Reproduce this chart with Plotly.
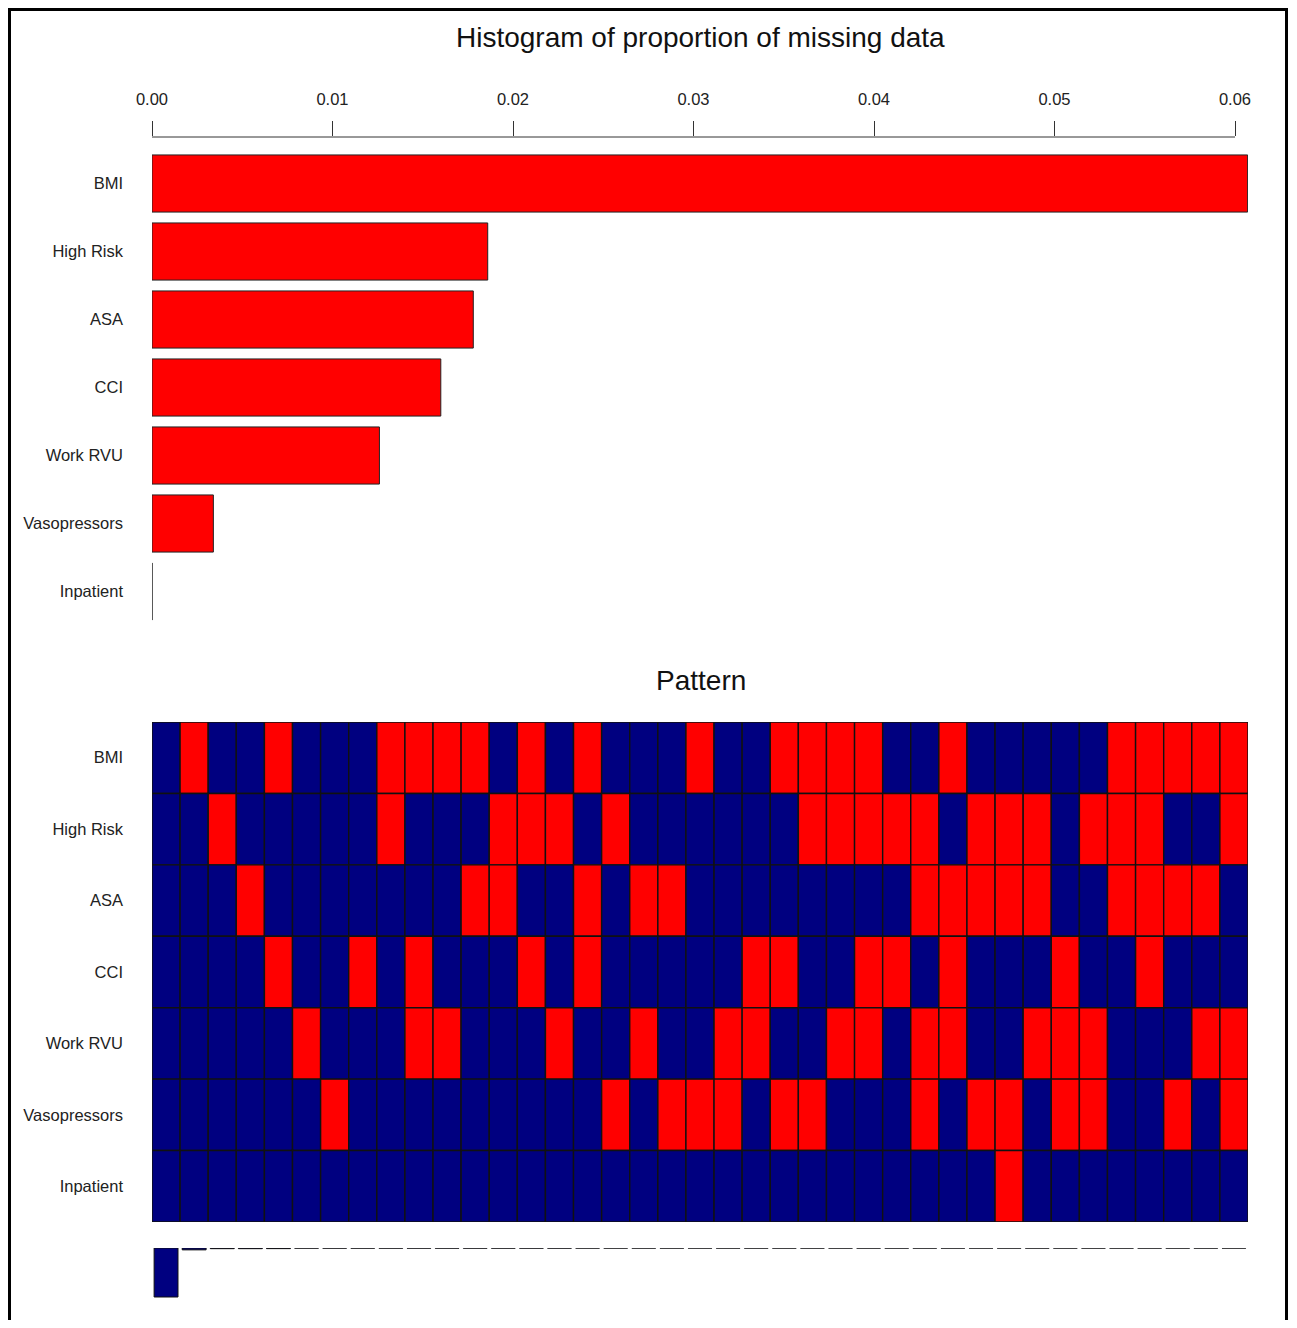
import plotly.graph_objects as go

# ---------------- data ----------------
variables = ["BMI", "High Risk", "ASA", "CCI", "Work RVU", "Vasopressors", "Inpatient"]
prop_missing = [0.0607, 0.0186, 0.0178, 0.0160, 0.0126, 0.0034, 0.0]

tick_vals = [0.00, 0.01, 0.02, 0.03, 0.04, 0.05, 0.06]
tick_text = ["0.00", "0.01", "0.02", "0.03", "0.04", "0.05", "0.06"]

# missingness pattern: one row per variable, one column per pattern (1 = missing)
pat_bmi      = [0,1,0,0,1,0,0,0,1,1,1,1,0,1,0,1,0,0,0,1,0,0,1,1,1,1,0,0,1,0,0,0,0,0,1,1,1,1,1]
pat_highrisk = [0,0,1,0,0,0,0,0,1,0,0,0,1,1,1,0,1,0,0,0,0,0,0,1,1,1,1,1,0,1,1,1,0,1,1,1,0,0,1]
pat_asa      = [0,0,0,1,0,0,0,0,0,0,0,1,1,0,0,1,0,1,1,0,0,0,0,0,0,0,0,1,1,1,1,1,0,0,1,1,1,1,0]
pat_cci      = [0,0,0,0,1,0,0,1,0,1,0,0,0,1,0,1,0,0,0,0,0,1,1,0,0,1,1,0,1,0,0,0,1,0,0,1,0,0,0]
pat_workrvu  = [0,0,0,0,0,1,0,0,0,1,1,0,0,0,1,0,0,1,0,0,1,1,0,0,1,1,0,1,1,0,0,1,1,1,0,0,0,1,1]
pat_vaso     = [0,0,0,0,0,0,1,0,0,0,0,0,0,0,0,0,1,0,1,1,1,0,1,1,0,0,0,1,0,1,1,0,1,1,0,0,1,0,1]
pat_inpat    = [0,0,0,0,0,0,0,0,0,0,0,0,0,0,0,0,0,0,0,0,0,0,0,0,0,0,0,0,0,0,1,0,0,0,0,0,0,0,0]

pattern_freq = [0.890, 0.034, 0.012, 0.012, 0.011, 0.002, 0.002, 0.002, 0.002, 0.002,
                0.002, 0.002, 0.002, 0.002, 0.002, 0.001, 0.001, 0.001, 0.001, 0.001,
                0.001, 0.001, 0.001, 0.001, 0.001, 0.001, 0.001, 0.001, 0.001, 0.001,
                0.001, 0.001, 0.001, 0.001, 0.001, 0.001, 0.001, 0.001, 0.001]

pattern_matrix = [pat_bmi, pat_highrisk, pat_asa, pat_cci, pat_workrvu, pat_vaso, pat_inpat]
n_pat = len(pat_bmi)
n_var = len(variables)
pattern_ids = list(range(n_pat))

# ---------------- layout helpers ----------------
W, H = 1281, 1312          # figure size (page adds an 8px body margin)
OFF = 8
def px(x):
    return (x - OFF) / W
def py(y):
    return 1 - (y - OFF) / H

FONT = "Liberation Sans, Arial, sans-serif"
RED = "#FF0000"
NAVY = "#000080"
LBL = 16.5

fig = go.Figure()

# top: histogram of proportion missing
fig.add_trace(go.Bar(
    x=prop_missing, y=variables, orientation="h",
    marker=dict(color=RED, line=dict(color="#222222", width=1)),
    width=0.84, xaxis="x", yaxis="y", hoverinfo="x+y",
))

# middle: pattern grid (one row of cells per variable)
for r, (name, row) in enumerate(zip(variables, pattern_matrix)):
    fig.add_trace(go.Bar(
        x=pattern_ids, y=[1] * n_pat, base=[n_var - 1 - r] * n_pat,
        marker=dict(color=[RED if v else NAVY for v in row],
                    line=dict(color="#111111", width=1.4)),
        width=1, name=name, xaxis="x2", yaxis="y2",
        customdata=row, hovertemplate=name + " pattern %{x}: missing=%{customdata}<extra></extra>",
    ))

# bottom: pattern frequencies
fig.add_trace(go.Bar(
    x=pattern_ids, y=pattern_freq,
    marker=dict(color=NAVY, line=dict(color="#111111", width=1)),
    width=0.85, xaxis="x3", yaxis="y3",
))

xmax = 0.06 * (1248 - 152) / (1235 - 152)

common = dict(showgrid=False, zeroline=False, showline=False, automargin=False, fixedrange=True)

fig.update_layout(
    width=W, height=H, autosize=False,
    margin=dict(l=0, r=0, t=0, b=0, pad=0),
    paper_bgcolor="white", plot_bgcolor="white",
    showlegend=False, barmode="overlay",
    font=dict(family=FONT, size=LBL, color="#222222"),
    xaxis=dict(domain=[px(152), px(1248)], range=[0, xmax], side="top", anchor="y",
               tickvals=tick_vals, ticktext=tick_text, ticks="outside", ticklen=15,
               tickcolor="#333333", tickwidth=1, ticklabelstandoff=9, **common),
    yaxis=dict(domain=[py(630), py(137)], type="category", categoryarray=variables,
               range=[6.566, -0.684], ticks="", ticklabelstandoff=28, anchor="x", **common),
    xaxis2=dict(domain=[px(152), px(1248)], range=[-0.5, n_pat - 0.5], anchor="y2",
                showticklabels=False, ticks="", **common),
    yaxis2=dict(domain=[py(1222), py(722)], range=[0, n_var],
                tickvals=[n_var - 0.5 - r for r in range(n_var)], ticktext=variables,
                ticks="", ticklabelstandoff=28, anchor="x2", **common),
    xaxis3=dict(domain=[px(152), px(1248)], range=[-0.5, n_pat - 0.5], anchor="y3",
                showticklabels=False, ticks="", **common),
    yaxis3=dict(domain=[py(1310), py(1248)], range=[0.890 * 62 / 49, 0],
                showticklabels=False, ticks="", anchor="x3", **common),
    annotations=[
        dict(text="Histogram of proportion of missing data", x=px(700), y=py(38),
             xref="paper", yref="paper", showarrow=False,
             font=dict(family=FONT, size=28, color="#111111"), xanchor="center", yanchor="middle"),
        dict(text="Pattern", x=px(701), y=py(680),
             xref="paper", yref="paper", showarrow=False,
             font=dict(family=FONT, size=28, color="#111111"), xanchor="center", yanchor="middle"),
    ],
    shapes=[
        # top axis line (0 to 0.06)
        dict(type="line", xref="x", yref="paper", x0=0, x1=0.06, y0=py(137), y1=py(137),
             line=dict(color="#333333", width=1)),
        # outer frame
        dict(type="rect", xref="paper", yref="paper", x0=px(9.5), x1=px(1286.5),
             y0=py(1400), y1=py(9.5), line=dict(color="black", width=3),
             fillcolor="rgba(0,0,0,0)"),
    ],
)

fig.write_html("out.html")
